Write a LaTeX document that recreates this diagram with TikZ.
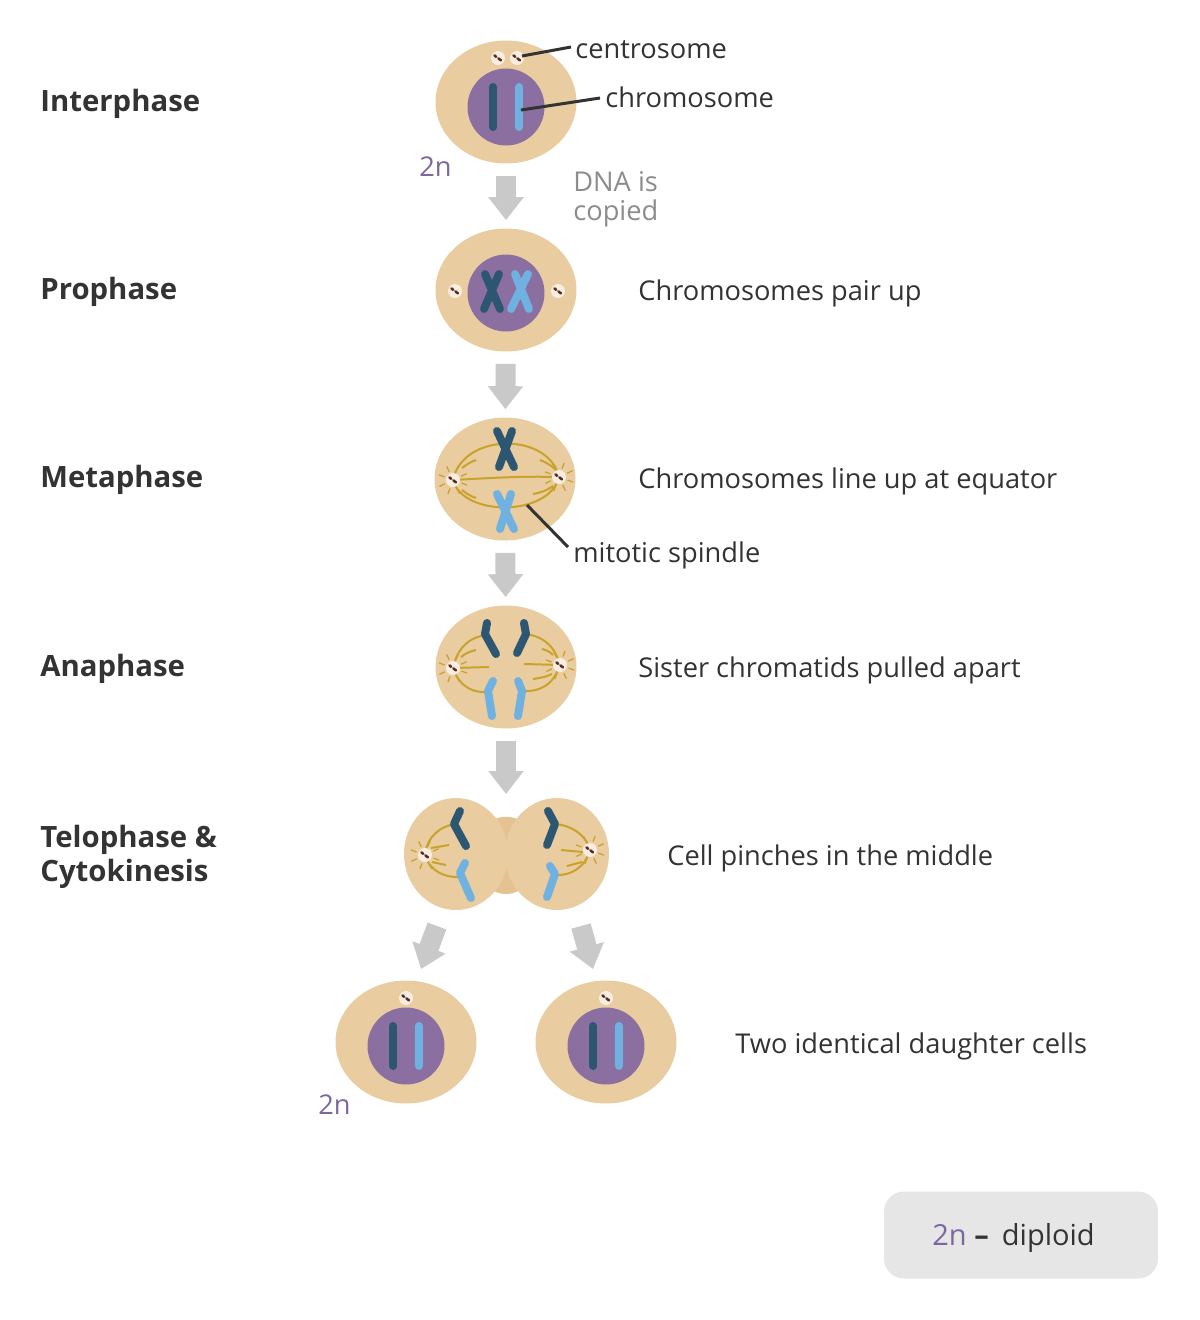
\documentclass[tikz,border=0pt]{standalone}
\usepackage{fontspec}
\setmainfont{Open Sans}
\usetikzlibrary{arrows.meta,shapes.geometric}
\definecolor{celltan}{HTML}{E9CC9F}
\definecolor{bridgetan}{HTML}{E4C291}
\definecolor{nucviolet}{HTML}{8A6FA0}
\definecolor{chrdark}{HTML}{2D5673}
\definecolor{chrlight}{HTML}{6FB1E0}
\definecolor{centfill}{HTML}{F7EDE0}
\definecolor{centdot}{HTML}{5B2B1E}
\definecolor{spindlegold}{HTML}{C9A22A}
\definecolor{arrowgrey}{HTML}{C9C9C9}
\definecolor{txt}{HTML}{333333}
\definecolor{dnagrey}{HTML}{8C8C8C}
\definecolor{ploid}{HTML}{7E67A0}
\definecolor{keyfill}{HTML}{E6E6E6}

\begin{document}
\begin{tikzpicture}[x=0.02cm,y=-0.02cm,
  cell/.style={ellipse,fill=celltan,inner sep=0,minimum width=2.82cm,minimum height=2.46cm},
  lobe/.style={ellipse,fill=celltan,inner sep=0,minimum width=2.08cm,minimum height=2.24cm},
  nucleus/.style={circle,fill=nucviolet,inner sep=0,minimum size=1.54cm},
  phase/.style={anchor=base west,inner sep=0,text=txt,font=\fontsize{16.7}{19.4}\selectfont\bfseries},
  note/.style={anchor=base west,inner sep=0,text=txt,font=\fontsize{15.5}{19}\selectfont},
  ploidy/.style={anchor=base west,inner sep=0,text=ploid,font=\fontsize{15.5}{19}\selectfont},
  flow/.style={draw=arrowgrey,line width=.4cm,-{Triangle[width=.68cm,length=.46cm]},
    shorten <=.24cm,shorten >=.16cm},
  pointer/.style={draw=txt,line width=.06cm},
  darkchr/.style={draw=chrdark,line width=.16cm,line cap=round,line join=round},
  lightchr/.style={draw=chrlight,line width=.16cm,line cap=round,line join=round},
  spindle/.style={draw=spindlegold,line width=.04cm},
  centro/.pic={\fill[centfill] (0,0) circle (7);
    \draw[centdot,line width=.05cm,line cap=round] (-3.6,-2.6) -- (-1.8,-1.2) (0.4,0.4) -- (3,2.4);},
  aster/.pic={\foreach \a in {20,65,...,335} \draw[spindlegold,line width=.025cm] (\a:9) -- (\a:15);}
]
\fill[white] (0,0) rectangle (1200,1320);
\useasboundingbox (0,0) rectangle (1200,1320);

% phase names
\node[phase] (interphase) at (40,111) {Interphase};
\node[phase] (prophase) at (40,299) {Prophase};
\node[phase] (metaphase) at (40,487) {Metaphase};
\node[phase] (anaphase) at (40,676) {Anaphase};
\node[phase,align=left,anchor=north west] (telophase) at (40,825) {Telophase \&\\Cytokinesis};

% interphase
\node[cell] (inter) at (506,102) {};
\node[nucleus] (inter-n) at (506,107) {};
\draw[darkchr] (493,87) -- (493,127);
\draw[lightchr] (519,87) -- (519,127);
\pic at (498,58) {centro};
\pic at (517,58) {centro};
\node[note] (lcentro) at (575,58) {centrosome};
\node[note] (lchromo) at (605,107) {chromosome};
\draw[pointer] (522,56) -- ([shift={(-4,-11)}]lcentro.base west);
\draw[pointer] (521,110) -- ([shift={(-5,-9)}]lchromo.base west);
\node[ploidy] (twon-top) at (419,176) {2n};
\node[anchor=base west,inner sep=0,text=dnagrey,align=left,font=\fontsize{15.5}{16}\selectfont]
  (copied) at (573,220) {DNA is\\copied};

% prophase
\node[cell] (pro) at (506,290) {};
\node[nucleus] (pro-n) at (506,293) {};
\draw[darkchr] (485,274) -- (500,309) (499,274) -- (484,309);
\draw[lightchr] (515,274) -- (529,309) (528,274) -- (511,309);
\pic at (455,291) {centro};
\pic at (558,291) {centro};
\node[note] (lpair) at (638,300) {Chromosomes pair up};

% metaphase
\node[cell] (meta) at (505,479) {};
\draw[spindle] (453,480) .. controls (463,432) and (549,432) .. (559,477)
  (453,480) .. controls (463,517) and (549,517) .. (559,477)
  (453,480) .. controls (490,478) and (520,476) .. (559,477)
  (462,468) .. controls (466,465) and (470,462) .. (476,460)
  (462,490) .. controls (466,493) and (470,496) .. (476,498)
  (556,470) .. controls (552,466) and (546,462) .. (540,460)
  (553,486) .. controls (548,490) and (540,493) .. (533,494);
\draw[darkchr] (497,431) -- (514,467) (512,431) -- (499,467);
\draw[lightchr] (497,494) -- (514,529) (511,494) -- (500,529);
\pic at (453,480) {aster}; \pic at (453,480) {centro};
\pic at (559,477) {aster}; \pic at (559,477) {centro};
\node[note] (lequator) at (638,488) {Chromosomes line up at equator};
\node[note] (lspindle) at (573,562) {mitotic spindle};
\draw[pointer] (527,505) -- ([shift={(-5,-15)}]lspindle.base west);

% anaphase
\node[cell] (ana) at (506,667) {};
\draw[spindle] (453,668) .. controls (458,645) and (472,637) .. (486,635)
  (453,668) .. controls (460,688) and (474,693) .. (488,692)
  (453,668) -- (489,667)
  (461,657) .. controls (466,653) and (471,651) .. (476,650)
  (560,665) .. controls (554,643) and (540,636) .. (526,634)
  (560,665) .. controls (553,686) and (539,692) .. (522,691)
  (560,665) -- (524,664)
  (553,655) .. controls (549,651) and (546,650) .. (542,649)
  (552,674) .. controls (546,677) and (540,678) .. (533,679);
\draw[darkchr] (487,623) -- (485,634) -- (496,654);
\draw[darkchr] (524,623) -- (526,634) -- (517,653);
\draw[lightchr] (493,681) -- (488,691) -- (492,716);
\draw[lightchr] (518,681) -- (522,691) -- (518,716);
\pic at (453,668) {aster}; \pic at (453,668) {centro};
\pic at (560,665) {aster}; \pic at (560,665) {centro};
\node[note] (lapart) at (638,677) {Sister chromatids pulled apart};

% telophase & cytokinesis
\fill[bridgetan] (490,822) .. controls (498,815) and (514,815) .. (522,822) -- (522,888)
  .. controls (514,896) and (498,896) .. (490,888) -- cycle;
\node[lobe] (telo-l) at (456,854) {};
\node[lobe] (telo-r) at (557,854) {};
\coordinate (pinch) at (506,794);
\draw[spindle] (425,855) .. controls (427,836) and (441,826) .. (455,824)
  (425,855) .. controls (430,872) and (446,878) .. (461,877)
  (431,848) -- (449,845)
  (432,862) -- (446,865)
  (590,850) .. controls (586,834) and (570,825) .. (555,824)
  (590,850) .. controls (585,868) and (570,876) .. (555,875)
  (583,852) -- (561,850)
  (582,862) -- (567,866);
\draw[darkchr] (460,811) -- (454,824) -- (466,846);
\draw[lightchr] (465,863) -- (460,873) -- (471,898);
\draw[darkchr] (548,811) -- (555,824) -- (547,845);
\draw[lightchr] (550,866) -- (555,874) -- (547,897);
\pic at (425,855) {aster}; \pic at (425,855) {centro};
\pic at (590,850) {aster}; \pic at (590,850) {centro};
\node[note] (lpinch) at (667,865) {Cell pinches in the middle};

% daughter cells
\foreach \d/\x in {dl/406,dr/606}{
  \node[cell] (\d) at (\x,1042) {};
  \node[nucleus] (\d-n) at (\x,1046) {};
  \draw[darkchr] (\x-13,1026) -- (\x-13,1066);
  \draw[lightchr] (\x+13,1026) -- (\x+13,1066);
  \pic at (\x,998) {centro};
}
\node[ploidy] (twon-bottom) at (318,1114) {2n};
\node[note] (ltwo) at (735,1053) {Two identical daughter cells};

% arrows
\foreach \a/\b in {inter/pro,pro/meta,meta/ana}
  \draw[flow] (\a) -- (\b);
\draw[flow,shorten >=0pt] (ana) -- (pinch);
\coordinate (split-l) at (437,926);
\coordinate (into-l) at (421,969);
\coordinate (split-r) at (581,926);
\coordinate (into-r) at (593,969);
\draw[flow,shorten <=0pt,shorten >=0pt] (split-l) -- (into-l);
\draw[flow,shorten <=0pt,shorten >=0pt] (split-r) -- (into-r);

% key
\node[fill=keyfill,rounded corners=.4cm,minimum width=5.48cm,minimum height=1.74cm] (key) at (1021,1235) {};
\node[ploidy,font=\fontsize{16.5}{20}\selectfont] (key-twon) at (932,1245) {2n};
\node[note,font=\fontsize{16.5}{20}\selectfont] (key-text) at (974,1245) {\textbf{–}\hspace{.45em}diploid};
\end{tikzpicture}
\end{document}
